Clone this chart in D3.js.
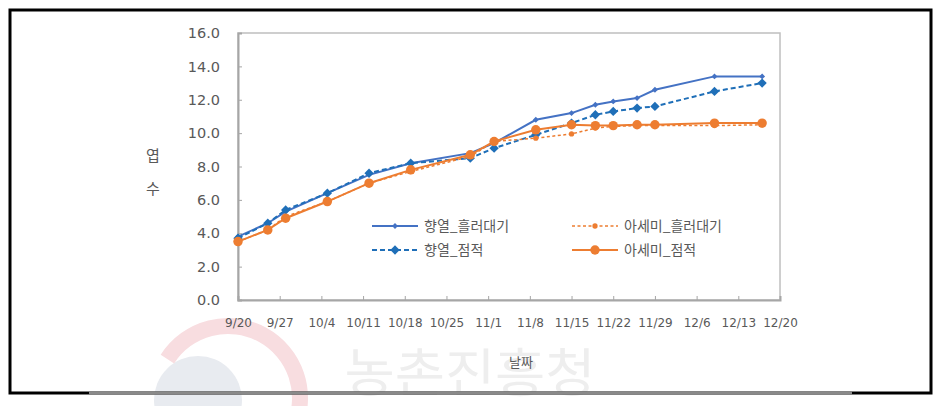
<!DOCTYPE html>
<html><head><meta charset="utf-8">
<script src="https://cdn.jsdelivr.net/npm/d3@7"></script>
<style>
html,body{margin:0;padding:0;background:#fff;}
svg{display:block;}
</style></head>
<body>
<svg id="chart" width="944" height="406"></svg>
<script>
// ---- data ----
const tickLabels = ["9/20","9/27","10/4","10/11","10/18","10/25","11/1","11/8","11/15","11/22","11/29","12/6","12/13","12/20"];
const dates = ["9/20","9/25","9/28","10/5","10/12","10/19","10/29","11/2","11/9","11/15","11/19","11/22","11/26","11/29","12/9","12/17"];
const hyangFlow  = [3.8,4.6,5.3,6.4,7.5,8.2,8.8,9.4,10.8,11.2,11.7,11.9,12.1,12.6,13.4,13.4];
const hyangDrip  = [3.7,4.6,5.4,6.4,7.6,8.2,8.5,9.1,9.9,10.6,11.1,11.3,11.5,11.6,12.5,13.0];
const asemiFlow  = [3.5,4.2,5.0,5.9,7.0,7.7,8.6,9.5,9.7,9.95,10.3,10.4,10.45,10.45,10.45,10.5];
const asemiDrip  = [3.5,4.2,4.9,5.9,7.0,7.8,8.7,9.5,10.2,10.5,10.45,10.45,10.5,10.5,10.6,10.6];
const seriesNames = ["향열_흘러대기","향열_점적","아세미_흘러대기","아세미_점적"];
const yTicks = [0,2,4,6,8,10,12,14,16];
const yTitle = ["엽","수"];
const xTitle = "날짜";
const watermarkText = "농촌진흥청";

const parse = s => { const [m,d] = s.split("/").map(Number); return new Date(2020, m-1, d); };

const svg = d3.select("#chart");
const L = 238, R = 780, T = 33, B = 300;

// watermark (faint)
const wm = svg.append("g");
wm.append("circle").attr("cx",198).attr("cy",400).attr("r",44).attr("fill","#e8ebf0");
wm.append("path")
  .attr("d", d3.arc()({innerRadius:64, outerRadius:80, startAngle:-1.0, endAngle:2.0}))
  .attr("transform","translate(228,398)").attr("fill","#f8dde0");
wm.append("text").attr("transform","translate(470,392) scale(1.05,1)").attr("text-anchor","middle")
  .attr("font-family","Noto Sans CJK KR").attr("font-size",52).attr("font-weight",400)
  .attr("fill","#eeeeee").text(watermarkText);

// outer frame
svg.append("rect").attr("x",10).attr("y",10).attr("width",921).attr("height",383)
  .attr("fill","none").attr("stroke","#000").attr("stroke-width",3);
svg.append("line").attr("x1",89).attr("x2",852).attr("y1",393).attr("y2",393)
  .attr("stroke","#8a8a8a").attr("stroke-width",3);

const x = d3.scaleTime().domain([parse("9/20"), parse("12/20")]).range([L, R]);
const y = d3.scaleLinear().domain([0,16]).range([B, T]);

// plot area border
svg.append("rect").attr("x",L).attr("y",T).attr("width",R-L).attr("height",B-T)
  .attr("fill","none").attr("stroke","#bfbfbf").attr("stroke-width",1.5);

// axes
const yAxis = d3.axisLeft(y).tickValues(yTicks).tickSize(-4).tickPadding(18)
  .tickFormat(d3.format(".1f"));
const gy = svg.append("g").attr("transform",`translate(${L},0)`).call(yAxis);
gy.select(".domain").attr("stroke","#a6a6a6").attr("stroke-width",2);
gy.selectAll(".tick line").attr("stroke","#a6a6a6");
gy.selectAll("text").attr("font-family","DejaVu Sans").attr("font-size",14.5).attr("fill","#595959");

const xAxis = d3.axisBottom(x).tickValues(tickLabels.map(parse)).tickSize(-4).tickPadding(18)
  .tickFormat((d,i) => tickLabels[i]);
const gx = svg.append("g").attr("transform",`translate(0,${B})`).call(xAxis);
gx.select(".domain").attr("stroke","#a6a6a6").attr("stroke-width",2);
gx.selectAll(".tick line").attr("stroke","#a6a6a6");
gx.selectAll("text").attr("font-family","DejaVu Sans").attr("font-size",12).attr("fill","#595959");

// titles
yTitle.forEach((t,i) => svg.append("text").attr("x",153).attr("y",161 + i*33)
  .attr("text-anchor","middle").attr("font-family","Noto Sans CJK KR").attr("font-size",15)
  .attr("fill","#595959").text(t));
svg.append("text").attr("x",521).attr("y",367).attr("text-anchor","middle")
  .attr("font-family","Noto Sans CJK KR").attr("font-size",13).attr("fill","#595959").text(xTitle);

// series
const styles = [
  {vals:hyangFlow, color:"#4472C4", dash:null, w:2, marker:"diamond", size:22},
  {vals:hyangDrip, color:"#1F6FB8", dash:"5,3", w:2, marker:"diamond", size:55},
  {vals:asemiFlow, color:"#ED7D31", dash:"3,2.5", w:1.5, marker:"circle", size:22},
  {vals:asemiDrip, color:"#ED7D31", dash:null, w:2, marker:"circle", size:70},
];
const line = d3.line().x(d => x(d.date)).y(d => y(d.v));
styles.forEach((s, si) => {
  const pts = dates.map((dt,i) => ({date:parse(dt), v:s.vals[i]}));
  const g = svg.append("g");
  g.append("path").datum(pts).attr("d", line).attr("fill","none")
    .attr("stroke", s.color).attr("stroke-width", s.w).attr("stroke-dasharray", s.dash);
  const sym = d3.symbol().type(s.marker === "diamond" ? d3.symbolDiamond2 : d3.symbolCircle).size(s.size);
  g.selectAll("path.m").data(pts).join("path").attr("class","m")
    .attr("transform", d => `translate(${x(d.date)},${y(d.v)})`)
    .attr("d", sym).attr("fill", s.color);
});

// legend
const legendPos = [[372,226],[372,250],[572,226],[572,250]];
styles.forEach((s, si) => {
  const [lx, ly] = legendPos[si];
  const g = svg.append("g").attr("transform",`translate(${lx},${ly})`);
  g.append("line").attr("x1",0).attr("x2",46).attr("y1",0).attr("y2",0)
    .attr("stroke", s.color).attr("stroke-width", s.w).attr("stroke-dasharray", s.dash);
  const sym = d3.symbol().type(s.marker === "diamond" ? d3.symbolDiamond2 : d3.symbolCircle).size(s.size);
  g.append("path").attr("transform","translate(23,0)").attr("d", sym).attr("fill", s.color);
  g.append("text").attr("x",52).attr("y",5).attr("font-family","Noto Sans CJK KR")
    .attr("font-size",14).attr("fill","#595959").text(seriesNames[si]);
});
</script>
</body></html>
